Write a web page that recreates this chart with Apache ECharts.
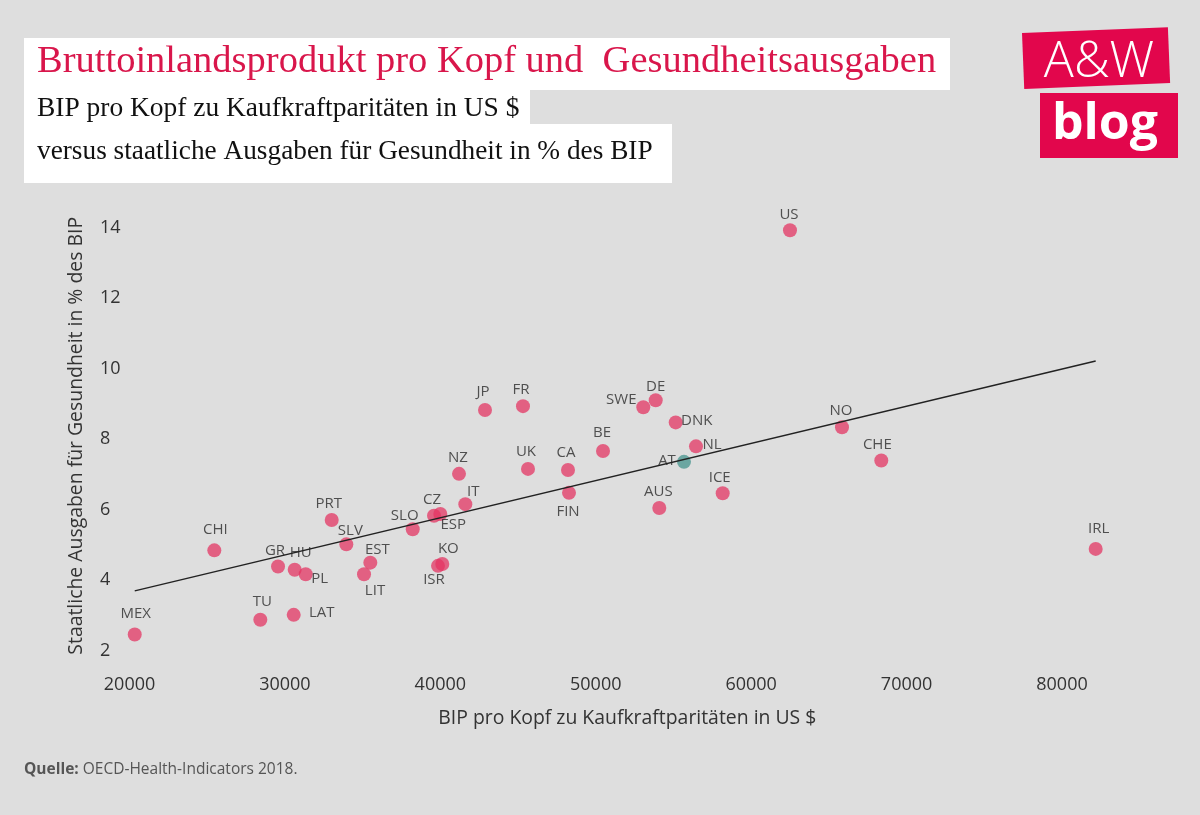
<!DOCTYPE html>
<html>
<head>
<meta charset="utf-8">
<script src="https://cdn.jsdelivr.net/npm/echarts@6/dist/echarts.min.js"></script>
<style>
html,body{margin:0;padding:0;background:#dedede;}
#chart{width:1200px;height:815px;}
</style>
</head>
<body>
<div id="chart"></div>
<script>
// ---- Data ----
const countries = ['MEX','CHI','TU','GR','LAT','HU','PL','PRT','SLV','LIT','EST','SLO','ISR','CZ','ESP','KO','NZ','IT','JP','FR','UK','CA','FIN','BE','SWE','DE','AUS','DNK','AT','NL','ICE','US','NO','CHE','IRL'];
const gdpPerCapita = [20335,25456,28416,29555,30565,30629,31337,33010,33950,35088,35494,38222,39850,39592,39998,40126,41201,41607,42874,45318,45640,48214,48278,50466,53059,53857,54088,55144,55678,56450,58168,62498,65844,68373,82167];
const healthShare = [2.46,4.85,2.88,4.39,3.02,4.30,4.17,5.71,5.02,4.17,4.50,5.45,4.41,5.83,5.88,4.46,7.02,6.16,8.83,8.94,7.16,7.13,6.48,7.67,8.91,9.11,6.05,8.48,7.36,7.80,6.47,13.93,8.34,7.40,4.89];
const trendX = [20335, 82167];
const trendY = [3.70, 10.22];
const xTicks = [20000,30000,40000,50000,60000,70000,80000];
const yTicks = [2,4,6,8,10,12,14];
const highlighted = 'AT';

// ---- Label placement (label centre offset from dot centre, px) ----
const labelOffset = {
  MEX:[1,-21], CHI:[1,-21], TU:[2,-18], GR:[-3,-16], LAT:[28,-2], HU:[6,-17], PL:[14,4],
  PRT:[-3,-16], SLV:[4,-14], LIT:[11,16], EST:[7,-13], SLO:[-8,-13], ISR:[-4,14], CZ:[-2,-16],
  ESP:[13,11], KO:[6,-15], NZ:[-1,-16], IT:[8,-12], JP:[-2,-18], FR:[-2,-16], UK:[-2,-17],
  CA:[-2,-17], FIN:[-1,19], BE:[-1,-18], SWE:[-22,-7], DE:[0,-13], AUS:[-1,-16], DNK:[21,-2],
  AT:[-17,-1], NL:[16,-2], ICE:[-3,-15], US:[-1,-16], NO:[-1,-17], CHE:[-4,-16], IRL:[3,-20]
};

const pointColor = 'rgba(228,52,98,0.92)';
const highlightColor = 'rgba(66,146,140,0.92)';

const points = countries.map((c, i) => ({
  name: c,
  value: [gdpPerCapita[i], healthShare[i]],
  itemStyle: { color: c === highlighted ? highlightColor : pointColor },
  label: { offset: labelOffset[c] || [0,-18] }
}));

const chart = echarts.init(document.getElementById('chart'), null, {renderer:'canvas'});

chart.setOption({
  backgroundColor: '#dedede',
  animation: false,
  textStyle: { fontFamily: 'Open Sans' },
  grid: { left: 82.9, right: 60.3, top: 210.2, bottom: 146.6 },
  xAxis: {
    type: 'value', min: 17000, max: 85000, interval: 1000,
    axisLine: {show:false}, axisTick: {show:false}, splitLine: {show:false},
    axisLabel: {
      margin: 7, fontSize: 18, color: '#333', fontFamily: 'Open Sans',
      formatter: v => xTicks.includes(v) ? String(v) : ''
    },
    name: 'BIP pro Kopf zu Kaufkraftparitäten in US $',
    nameLocation: 'middle', nameGap: 41, nameMoveOverlap: false,
    nameTextStyle: { fontSize: 19.4, color: '#333', fontFamily: 'Open Sans', padding: [0,0,0,32] }
  },
  yAxis: {
    type: 'value', min: 1.5, max: 14.5, interval: 0.5,
    axisLine: {show:false}, axisTick: {show:false}, splitLine: {show:false},
    axisLabel: {
      inside: true, margin: 17, align: 'left', fontSize: 18, color: '#333', fontFamily: 'Open Sans',
      formatter: v => yTicks.includes(v) ? String(v) : ''
    },
    name: 'Staatliche Ausgaben für Gesundheit in % des BIP',
    nameLocation: 'middle', nameGap: -3.5, nameMoveOverlap: false,
    nameTextStyle: { fontSize: 19.4, color: '#333', fontFamily: 'Open Sans', padding: [0,0,0,7] }
  },
  series: [
    {
      type: 'scatter',
      symbolSize: 14,
      z: 2,
      data: points,
      label: {
        show: true, position: 'inside', formatter: '{b}',
        fontSize: 15, color: '#2b2b2b', fontFamily: 'Open Sans'
      },
      emphasis: { disabled: true }
    },
    {
      type: 'line',
      z: 3,
      symbol: 'none',
      data: trendX.map((x, i) => [x, trendY[i]]),
      lineStyle: { color: '#222', width: 1.5 },
      silent: true
    }
  ],
  graphic: [
    { type:'rect', shape:{x:24,y:38,width:926,height:52}, style:{fill:'#fff'} },
    { type:'rect', shape:{x:24,y:88,width:506,height:40}, style:{fill:'#fff'} },
    { type:'rect', shape:{x:24,y:124,width:648,height:59}, style:{fill:'#fff'} },
    { type:'text', x:37, y:81, scaleX:1.013,
      style:{ text:'Bruttoinlandsprodukt pro Kopf und  Gesundheitsausgaben', fill:'#d9164b',
        font:'38px "Liberation Serif"', textVerticalAlign:'bottom' } },
    { type:'text', x:37, y:123, scaleX:0.98,
      style:{ text:'BIP pro Kopf zu Kaufkraftparitäten in US $', fill:'#111',
        font:'28px "Liberation Serif"', textVerticalAlign:'bottom' } },
    { type:'text', x:37, y:166, scaleX:0.975,
      style:{ text:'versus staatliche Ausgaben für Gesundheit in % des BIP', fill:'#111',
        font:'28px "Liberation Serif"', textVerticalAlign:'bottom' } },
    // logo
    { type:'rect', x:1022, y:33, rotation: 0.04, shape:{x:0,y:0,width:146,height:56}, style:{fill:'#e2064c'} },
    { type:'rect', shape:{x:1040,y:93,width:138,height:65}, style:{fill:'#e2064c'} },
    { type:'text', x:1099, y:63, style:{ text:'A&W', fill:'#fff', font:'300 50px "Open Sans"', textAlign:'center', textVerticalAlign:'middle' } },
    { type:'text', x:1105, y:125, style:{ text:'blog', fill:'#fff', font:'bold 50px "Open Sans"', textAlign:'center', textVerticalAlign:'middle' } },
    // source
    { type:'text', x:24, y:770,
      style:{ text:'{b|Quelle:} OECD-Health-Indicators 2018.', fill:'#555', textVerticalAlign:'middle',
        font:'15.5px "Open Sans"', rich:{ b:{ fontWeight:'bold', fontSize:15.5, fontFamily:'Open Sans', fill:'#555' } } } }
  ]
});
</script>
</body>
</html>
